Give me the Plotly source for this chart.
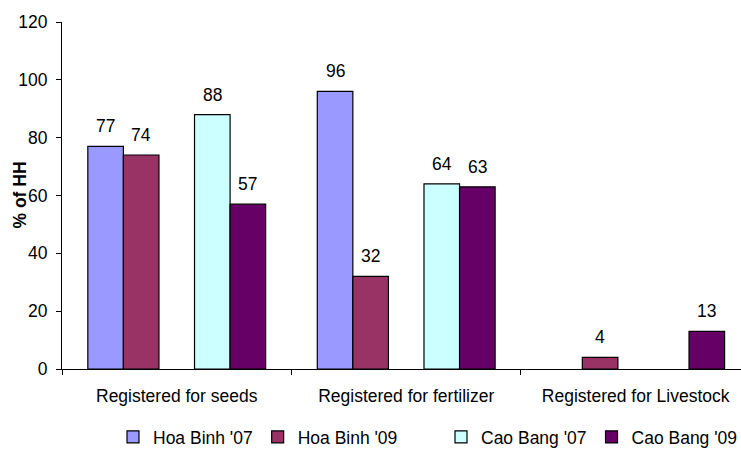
import plotly.graph_objects as go

# Share of households registered for each input, by province and survey year
categories = ["Registered for seeds", "Registered for fertilizer", "Registered for Livestock"]
hoa_binh_07 = [77, 96, None]
hoa_binh_09 = [74, 32, 4]
cao_bang_07 = [88, 64, None]
cao_bang_09 = [57, 63, 13]

# (name, values, colour, legend id); the blank slot keeps the two provinces apart
series = [
    ("Hoa Binh '07", hoa_binh_07, "#9999FF", "legend"),
    ("Hoa Binh '09", hoa_binh_09, "#993366", "legend"),
    ("", [None, None, None], "rgba(0,0,0,0)", None),
    ("Cao Bang '07", cao_bang_07, "#CCFFFF", "legend2"),
    ("Cao Bang '09", cao_bang_09, "#660066", "legend2"),
]

FONT = "Liberation Sans, Arial, sans-serif"
FS = 17.5
GAP = 0.225
W = (1 - GAP) / len(series)

WIDTH, HEIGHT = 741, 449
M_L, M_R, M_T, M_B = 62, 0, 22, 79.5

fig = go.Figure()
annotations = []
for k, (name, vals, color, leg) in enumerate(series):
    off = -0.5 + GAP / 2 + k * W
    spacer = leg is None
    fig.add_trace(go.Bar(
        name=name,
        x=categories,
        y=vals,
        width=W,
        offset=off,
        showlegend=not spacer,
        legend=leg if leg else "legend",
        marker=dict(color=color,
                    line=dict(color="rgba(0,0,0,0)" if spacer else "black",
                              width=0 if spacer else 1.2)),
        hoverinfo="skip" if spacer else None,
    ))
    for i, v in enumerate(vals):
        if v is None:
            continue
        annotations.append(dict(
            x=i + off + W / 2, y=v, xref="x", yref="y",
            text=str(v), showarrow=False, yanchor="bottom", yshift=8,
            font=dict(family=FONT, size=FS, color="black"),
        ))

# rotated y-axis title, placed in paper units left of the tick labels
plot_w = WIDTH - M_L - M_R
annotations.append(dict(
    x=(19 - M_L) / plot_w, y=0.5, xref="paper", yref="paper",
    xanchor="center", yanchor="middle",
    text="<b>% of HH</b>", textangle=-90, showarrow=False,
    font=dict(family=FONT, size=FS, color="black"),
))

legend_style = dict(orientation="h", xanchor="left", xref="container", yref="container",
                    y=1 - 437 / HEIGHT, yanchor="middle", traceorder="normal",
                    font=dict(family=FONT, size=FS, color="black"))

fig.update_layout(
    width=WIDTH, height=HEIGHT,
    margin=dict(l=M_L, r=M_R, t=M_T, b=M_B, autoexpand=False),
    paper_bgcolor="white", plot_bgcolor="white",
    font=dict(family=FONT, size=FS, color="black"),
    barmode="overlay",
    showlegend=True,
    legend=dict(x=113 / WIDTH, **legend_style),
    legend2=dict(x=441 / WIDTH, **legend_style),
    annotations=annotations,
)
fig.update_xaxes(
    type="category", range=[-0.5, 2.459], showline=True, linecolor="black", linewidth=1,
    ticks="outside", tickson="boundaries", ticklen=5, tickcolor="black",
    ticklabelstandoff=11,
    showgrid=False, zeroline=False, fixedrange=True,
)
fig.update_yaxes(
    range=[0, 120], dtick=20, showline=True, linecolor="black", linewidth=1,
    ticks="outside", ticklen=5, tickcolor="black", showgrid=False, zeroline=False,
    ticklabelstandoff=5, fixedrange=True,
)

fig.write_html("out.html")
